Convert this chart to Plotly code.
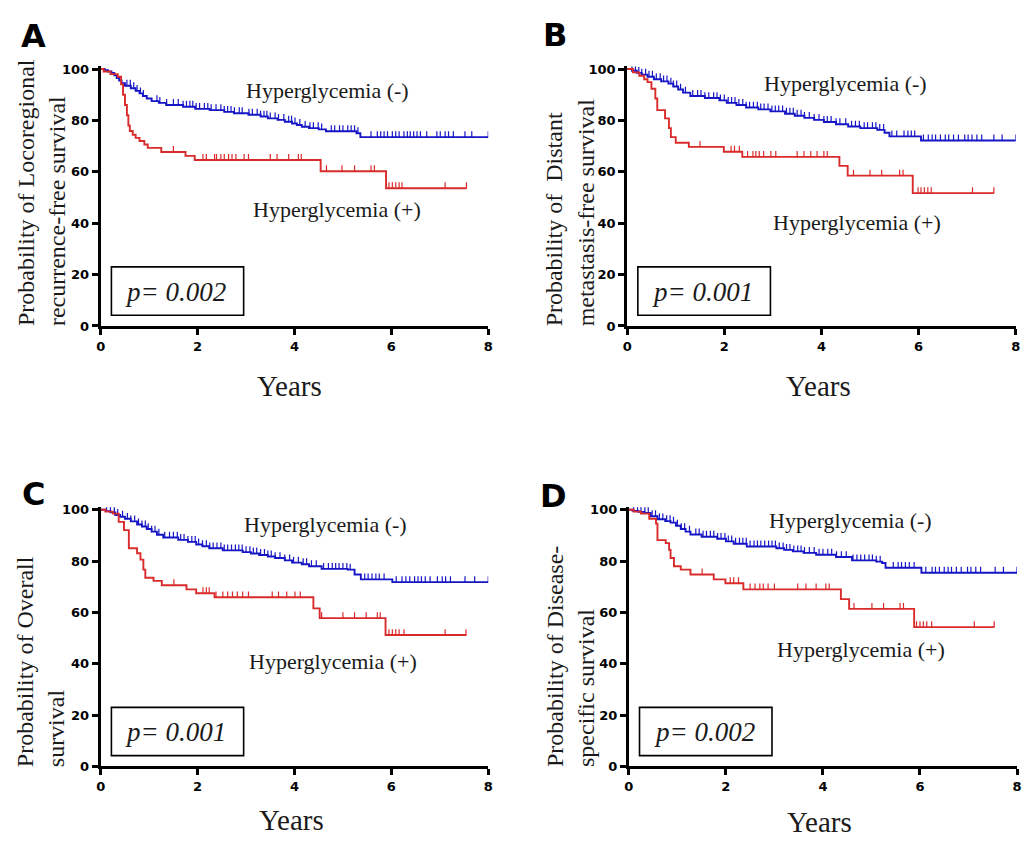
import numpy as np
import plotly.graph_objects as go

# ---------------- data ----------------
# Panel A: locoregional recurrence-free survival
A_neg_t = [0, 0.08, 0.15, 0.22, 0.28, 0.33, 0.38, 0.43, 0.5, 0.62, 0.72, 0.8, 0.87, 0.95, 1.05, 1.2, 1.35, 1.7,
           1.95, 2.25, 2.55, 2.75, 3.05, 3.3, 3.45, 3.65, 3.8, 3.95, 4.05, 4.15, 4.3, 4.5, 4.65, 5.28, 5.36, 8.0]
A_neg_s = [100, 99.5, 99, 98.5, 97.5, 96.5, 95.5, 94.5, 93.5, 92.5, 91.5, 90.5, 89.5, 88.5, 87.5, 86.8, 86, 85.3,
           84.5, 84, 83.3, 82.8, 82.2, 81.5, 80.8, 80.2, 79.5, 78.8, 78.2, 77.5, 77, 76.5, 75.8, 75, 73.5, 73.5]
A_neg_c = [0.54, 0.61, 0.68, 0.75, 0.82, 0.88, 1.16, 1.22, 1.36, 1.50, 1.60, 1.70, 1.77, 1.84, 1.90, 1.97, 2.04,
           2.14, 2.21, 2.28, 2.38, 2.48, 2.55, 2.62, 2.69, 2.76, 2.86, 2.92, 3.06, 3.13, 3.23, 3.30, 3.37, 3.43,
           3.50, 3.60, 3.67, 3.78, 3.88, 3.94, 4.01, 4.11, 4.22, 4.32, 4.39, 4.49, 4.56, 4.76, 4.83, 4.93, 5.00,
           5.10, 5.17, 5.24, 5.31, 5.58, 5.71, 5.78, 5.85, 5.92, 6.02, 6.09, 6.16, 6.26, 6.33, 6.39, 6.46, 6.53,
           6.60, 6.73, 6.94, 7.01, 7.11, 7.18, 7.28, 7.52, 7.66, 8.0]
A_pos_t = [0, 0.06, 0.2, 0.35, 0.42, 0.46, 0.5, 0.54, 0.57, 0.6, 0.66, 0.72, 0.8, 0.9, 0.97, 1.25, 1.75, 1.94,
           4.54, 5.89, 7.55]
A_pos_s = [100, 99, 98, 97, 94, 90, 86, 82, 78, 75.9, 74.4, 73.2, 72, 70.6, 69.3, 67.7, 66.2, 64.6, 60.2, 53.6, 53.6]
A_pos_c = [1.50, 2.11, 2.18, 2.35, 2.39, 2.48, 2.55, 2.64, 2.71, 2.79, 2.96, 3.05, 3.50, 3.64, 3.88, 4.08, 4.14,
           4.66, 4.98, 5.24, 5.58, 5.65, 5.95, 6.02, 6.09, 6.16, 6.22, 7.11, 7.55]

# Panel B: distant metastasis-free survival
B_neg_t = [0, 0.1, 0.2, 0.3, 0.42, 0.55, 0.7, 0.85, 0.95, 1.05, 1.15, 1.3, 1.6, 1.9, 2.05, 2.25, 2.45, 2.7, 2.95,
           3.25, 3.45, 3.65, 3.85, 4.05, 4.3, 4.55, 4.8, 5.15, 5.3, 5.4, 6.05, 8.0]
B_neg_s = [100, 99.3, 98.5, 97.8, 97, 96, 95.2, 94.3, 93.2, 92, 90.8, 89.5, 88.7, 87.8, 86.8, 86, 85, 84.3, 83.5,
           82.6, 81.8, 81, 80.2, 79.4, 78.5, 77.6, 77, 76.3, 75.2, 73.8, 72.2, 72.2]
B_neg_c = [0.1, 0.17, 0.24, 0.3, 0.38, 0.45, 0.52, 0.6, 0.68, 0.75, 0.82, 0.9, 0.95, 1.02, 1.1, 1.2, 1.35, 1.45,
           1.52, 1.6, 1.68, 1.78, 1.85, 1.92, 2.0, 2.08, 2.15, 2.22, 2.3, 2.38, 2.45, 2.52, 2.6, 2.68, 2.75, 2.82,
           2.9, 2.98, 3.05, 3.12, 3.2, 3.28, 3.35, 3.42, 3.5, 3.58, 3.65, 3.75, 3.85, 3.95, 4.05, 4.12, 4.2, 4.3,
           4.38, 4.5, 4.62, 4.7, 4.78, 4.88, 4.95, 5.05, 5.12, 5.2, 5.28, 5.45, 5.55, 5.7, 5.78, 5.85, 5.92, 6.1,
           6.2, 6.28, 6.35, 6.45, 6.55, 6.62, 6.72, 6.82, 6.95, 7.02, 7.1, 7.2, 7.3, 7.55, 7.72, 8.0]
B_pos_t = [0, 0.12, 0.25, 0.35, 0.42, 0.5, 0.58, 0.62, 0.78, 0.86, 0.9, 1.0, 1.27, 1.99, 2.37, 4.37, 4.54, 5.88, 7.55]
B_pos_s = [100, 98.7, 97.4, 96, 94.9, 92.3, 88.5, 84, 80.8, 77, 73.5, 71.3, 69.7, 67.8, 65.8, 62.3, 58.5, 51.7, 51.7]
B_pos_c = [1.50, 2.14, 2.21, 2.31, 2.48, 2.59, 2.65, 2.72, 2.81, 2.96, 3.06, 3.50, 3.64, 3.78, 3.91, 4.05, 4.12,
           4.66, 5.0, 5.24, 5.61, 5.68, 5.99, 6.05, 6.12, 6.19, 6.26, 7.11, 7.55]

# Panel C: overall survival
C_neg_t = [0, 0.1, 0.2, 0.3, 0.4, 0.5, 0.62, 0.75, 0.85, 0.95, 1.05, 1.16, 1.29, 1.6, 1.8, 1.97, 2.1, 2.24, 2.52,
           2.93, 3.1, 3.27, 3.45, 3.6, 3.8, 3.95, 4.15, 4.3, 4.56, 5.1, 5.24, 5.37, 6.02, 8.0]
C_neg_s = [100, 99.5, 99, 98, 97.3, 96.5, 95.5, 94.3, 93.5, 92.5, 91.5, 90.3, 89.2, 88.3, 87.5, 86.5, 85.8, 85,
           84.2, 83.5, 83, 82.4, 81.8, 81.2, 80.3, 79.4, 78.8, 78, 77, 76.7, 74.8, 72.9, 71.8, 71.8]
C_neg_c = [0.12, 0.2, 0.28, 0.35, 0.45, 0.55, 0.62, 0.7, 0.78, 0.85, 0.92, 0.98, 1.05, 1.12, 1.2, 1.32, 1.42, 1.5,
           1.58, 1.65, 1.72, 1.8, 1.88, 1.95, 2.02, 2.1, 2.18, 2.25, 2.32, 2.4, 2.48, 2.55, 2.62, 2.7, 2.78, 2.85,
           2.92, 3.0, 3.08, 3.15, 3.22, 3.3, 3.38, 3.45, 3.52, 3.6, 3.7, 3.8, 3.9, 3.98, 4.08, 4.18, 4.25, 4.35,
           4.45, 4.6, 4.7, 4.78, 4.85, 4.92, 5.0, 5.08, 5.15, 5.45, 5.52, 5.6, 5.68, 5.75, 5.85, 6.1, 6.22, 6.3,
           6.38, 6.48, 6.55, 6.62, 6.7, 6.8, 6.95, 7.05, 7.12, 7.22, 7.52, 7.72, 8.0]
C_pos_t = [0, 0.1, 0.25, 0.37, 0.48, 0.58, 0.75, 0.82, 0.88, 0.92, 1.09, 1.26, 1.77, 1.97, 2.35, 4.39, 4.52, 5.88, 7.55]
C_pos_s = [100, 99.3, 98.5, 95.3, 92.1, 85, 83.1, 80.6, 76.7, 73.5, 72.3, 70.6, 69, 67.5, 65.9, 61.6, 57.8, 51.2, 51.2]
C_pos_c = [1.51, 2.11, 2.18, 2.24, 2.38, 2.52, 2.62, 2.72, 2.82, 2.93, 3.05, 3.54, 3.67, 3.84, 4.01, 4.12, 4.56,
           5.0, 5.24, 5.48, 5.71, 5.77, 5.95, 6.02, 6.09, 6.16, 6.26, 7.11, 7.54]

# Panel D: disease-specific survival
D_neg_t = [0, 0.08, 0.2, 0.32, 0.45, 0.59, 0.75, 0.86, 0.97, 1.07, 1.17, 1.27, 1.5, 1.82, 2.0, 2.16, 2.43, 3.04,
           3.2, 3.38, 3.6, 3.86, 4.27, 4.6, 5.1, 5.22, 5.29, 6.03, 8.0]
D_neg_s = [100, 99.6, 99.2, 98.8, 97.5, 96.3, 95.6, 95, 93.8, 92.5, 91.5, 90.4, 89.5, 88.7, 87.7, 86.8, 85.7, 85,
           84.4, 83.8, 83.2, 82.5, 81.6, 80.3, 79.8, 79.3, 77.4, 75.5, 75.5]
D_neg_c = [0.1, 0.18, 0.25, 0.33, 0.4, 0.48, 0.55, 0.63, 0.7, 0.78, 0.85, 0.92, 1.0, 1.08, 1.15, 1.25, 1.38, 1.45,
           1.53, 1.6, 1.68, 1.75, 1.83, 1.9, 1.98, 2.05, 2.12, 2.2, 2.28, 2.35, 2.42, 2.5, 2.58, 2.65, 2.72, 2.8,
           2.88, 2.95, 3.02, 3.1, 3.18, 3.25, 3.32, 3.4, 3.48, 3.55, 3.62, 3.72, 3.82, 3.92, 4.0, 4.1, 4.18, 4.28,
           4.38, 4.48, 4.62, 4.7, 4.78, 4.86, 4.95, 5.02, 5.1, 5.18, 5.45, 5.55, 5.62, 5.7, 5.78, 5.88, 6.12, 6.25,
           6.32, 6.4, 6.5, 6.58, 6.65, 6.75, 6.85, 6.98, 7.05, 7.15, 7.25, 7.55, 7.72, 8.0]
D_pos_t = [0, 0.1, 0.25, 0.42, 0.56, 0.59, 0.76, 0.83, 0.86, 0.93, 1.07, 1.27, 1.75, 1.99, 2.36, 4.37, 4.54, 5.88, 7.53]
D_pos_s = [100, 99.3, 98.5, 96.5, 94.6, 88.2, 87, 84.4, 81.2, 78, 76.7, 74.8, 72.9, 71.4, 69, 65.2, 61.4, 54.3, 54.3]
D_pos_c = [1.51, 2.09, 2.16, 2.26, 2.5, 2.6, 2.7, 2.77, 2.87, 3.0, 3.48, 3.65, 3.86, 4.06, 4.13, 4.64, 5.01, 5.25,
           5.59, 5.66, 5.93, 6.0, 6.07, 6.14, 6.24, 7.12, 7.53]

panel_letters = ["A", "B", "C", "D"]
p_values = ["p= 0.002", "p= 0.001", "p= 0.001", "p= 0.002"]
y_titles = ["Probability of Locoregional<br>recurrence-free survival",
            "Probability of\u00a0 Distant<br>metastasis-free survival",
            "Probability of Overall<br>survival",
            "Probability of Disease-<br>specific survival"]
x_ticks = [0, 2, 4, 6, 8]
y_ticks = [0, 20, 40, 60, 80, 100]
label_neg = "Hyperglycemia (-)"
label_pos = "Hyperglycemia (+)"

# ---------------- layout constants ----------------
BLUE = "#1616c6"
RED = "#d92b2b"
W, H = 1023, 845

panels = [
    dict(neg=(A_neg_t, A_neg_s, A_neg_c), pos=(A_pos_t, A_pos_s, A_pos_c),
         xdom=(96.7, 488.0), ybot=326.0, ytop=65.0,
         letter=(29, 31), ytitle=(37, 328), years=(287, 387),
         lneg=(4.68, 91.6), lpos=(4.88, 45.2)),
    dict(neg=(B_neg_t, B_neg_s, B_neg_c), pos=(B_pos_t, B_pos_s, B_pos_c),
         xdom=(628.3, 1020.7), ybot=326.0, ytop=65.0,
         letter=(555, 30), ytitle=(571, 328), years=(822, 387),
         lneg=(4.5, 94.3), lpos=(4.73, 40.2)),
    dict(neg=(C_neg_t, C_neg_s, C_neg_c), pos=(C_pos_t, C_pos_s, C_pos_c),
         xdom=(96.7, 488.0), ybot=773.3, ytop=512.7,
         letter=(29, 497), ytitle=(36, 776), years=(289, 828),
         lneg=(4.64, 94.4), lpos=(4.8, 40.7)),
    dict(neg=(D_neg_t, D_neg_s, D_neg_c), pos=(D_pos_t, D_pos_s, D_pos_c),
         xdom=(630.0, 1022.0), ybot=773.3, ytop=512.7,
         letter=(554, 499), ytitle=(571, 776), years=(823, 830),
         lneg=(4.57, 95.9), lpos=(4.78, 45.7)),
]

YMAX = 101.0


def step_value(t, s, c):
    t = np.asarray(t, dtype=float)
    s = np.asarray(s, dtype=float)
    idx = np.searchsorted(t, np.asarray(c, dtype=float), side="right") - 1
    idx = np.clip(idx, 0, len(s) - 1)
    return s[idx]


fig = go.Figure()
annotations = []
shapes = []
axis_font = dict(family="DejaVu Sans", size=13, color="black", weight="bold")
TXT = "#1a1a1a"

for i, p in enumerate(panels):
    n = "" if i == 0 else str(i + 1)
    xa, ya = "x" + n, "y" + n
    for (t, s, c), col in ((p["neg"], BLUE), (p["pos"], RED)):
        fig.add_trace(go.Scatter(x=t, y=s, mode="lines", line=dict(color=col, width=1.9, shape="hv"),
                                 xaxis=xa, yaxis=ya, hoverinfo="skip", showlegend=False))
        fig.add_trace(go.Scatter(x=c, y=step_value(t, s, c), mode="markers",
                                 marker=dict(size=1, color=col),
                                 error_y=dict(type="constant", value=2.3, valueminus=0, symmetric=False,
                                              width=0, thickness=1.2, color=col),
                                 xaxis=xa, yaxis=ya, hoverinfo="skip", showlegend=False))

    # domains
    x0, x1 = p["xdom"]
    unit = (p["ybot"] - p["ytop"]) / 100.0
    top_px = p["ybot"] - YMAX * unit
    xdom = [x0 / W, min(x1 / W, 1.0)]
    ydom = [1 - p["ybot"] / H, 1 - top_px / H]
    fig.layout["xaxis" + n] = dict(domain=xdom, anchor=ya, range=[0, 8], tickvals=x_ticks,
                                   showline=True, linewidth=3, linecolor="black", ticks="outside",
                                   ticklen=6, tickwidth=2.5, tickcolor="black", tickfont=axis_font,
                                   showgrid=False, zeroline=False, fixedrange=True)
    fig.layout["yaxis" + n] = dict(domain=ydom, anchor=xa, range=[0, YMAX], tickvals=y_ticks,
                                   showline=True, linewidth=3, linecolor="black", ticks="outside",
                                   ticklen=6, tickwidth=2.5, tickcolor="black", tickfont=axis_font,
                                   showgrid=False, zeroline=False, fixedrange=True)

    # curve labels
    annotations.append(dict(x=p["lneg"][0], y=p["lneg"][1], xref=xa, yref=ya, text=label_neg, showarrow=False,
                            xanchor="center", yanchor="middle",
                            font=dict(family="Liberation Serif", size=22, color=TXT)))
    annotations.append(dict(x=p["lpos"][0], y=p["lpos"][1], xref=xa, yref=ya, text=label_pos, showarrow=False,
                            xanchor="center", yanchor="middle",
                            font=dict(family="Liberation Serif", size=22, color=TXT)))
    # p-value box
    shapes.append(dict(type="rect", xref=xa, yref=ya, x0=0.22, x1=2.95, y0=4.2, y1=23.0,
                       line=dict(color="black", width=1.6), fillcolor="rgba(0,0,0,0)"))
    annotations.append(dict(x=1.55, y=13.4, xref=xa, yref=ya, text="<i>" + p_values[i] + "</i>", showarrow=False,
                            xanchor="center", yanchor="middle",
                            font=dict(family="Liberation Serif", size=27, color=TXT)))
    # panel letter
    annotations.append(dict(x=p["letter"][0] / W, y=1 - p["letter"][1] / H, xref="paper", yref="paper",
                            xanchor="center", yanchor="middle",
                            text="<b>" + panel_letters[i] + "</b>", showarrow=False,
                            font=dict(family="DejaVu Sans", size=32, color="black")))
    # y title
    annotations.append(dict(x=p["ytitle"][0] / W, y=1 - p["ytitle"][1] / H, xref="paper", yref="paper",
                            xanchor="center", yanchor="bottom", textangle=-90, align="left",
                            text=y_titles[i], showarrow=False,
                            font=dict(family="Liberation Serif", size=24, color=TXT)))
    # x title
    annotations.append(dict(x=p["years"][0] / W, y=1 - p["years"][1] / H, xref="paper", yref="paper",
                            xanchor="center", yanchor="middle",
                            text="Years", showarrow=False,
                            font=dict(family="Liberation Serif", size=29, color=TXT)))

fig.update_layout(width=W, height=H, margin=dict(l=0, r=0, t=0, b=0), paper_bgcolor="white",
                  plot_bgcolor="white", showlegend=False, annotations=annotations, shapes=shapes)

fig.write_html("out.html", config={"displayModeBar": False},
               post_script="document.body.style.margin='0px';document.body.style.overflow='hidden';")
